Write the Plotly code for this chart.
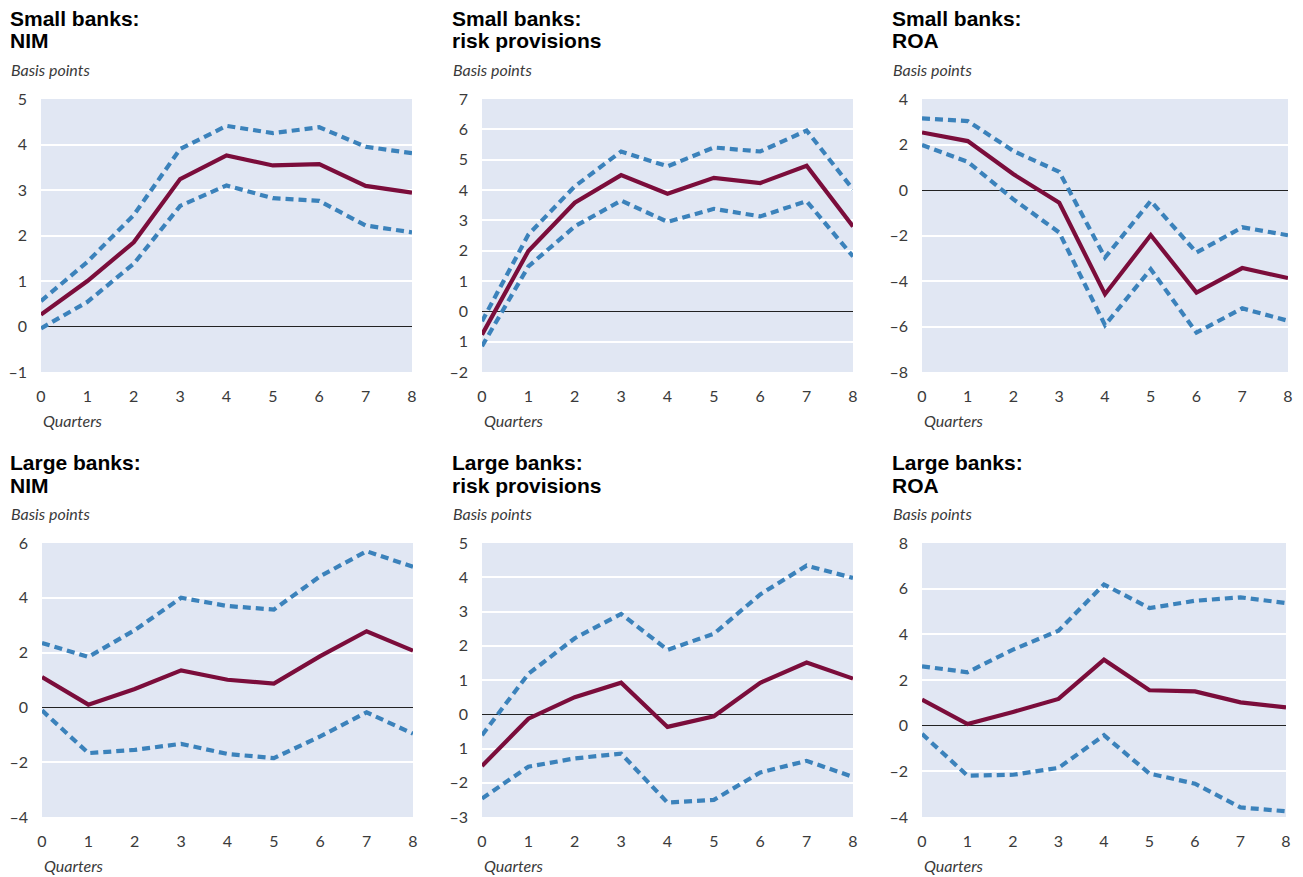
import plotly.graph_objects as go

quarters = [0, 1, 2, 3, 4, 5, 6, 7, 8]

# Small banks: NIM
s_nim_mid = [0.26, 1.0, 1.85, 3.24, 3.76, 3.54, 3.57, 3.09, 2.94]
s_nim_hi = [0.56, 1.42, 2.45, 3.9, 4.41, 4.25, 4.38, 3.95, 3.81]
s_nim_lo = [-0.04, 0.54, 1.38, 2.65, 3.1, 2.82, 2.76, 2.22, 2.07]

# Small banks: risk provisions
s_rp_mid = [-0.77, 1.99, 3.58, 4.49, 3.88, 4.4, 4.23, 4.8, 2.8]
s_rp_hi = [-0.33, 2.53, 4.12, 5.27, 4.78, 5.4, 5.27, 5.96, 4.02]
s_rp_lo = [-1.15, 1.48, 2.8, 3.65, 2.95, 3.38, 3.13, 3.63, 1.81]

# Small banks: ROA
s_roa_mid = [2.53, 2.15, 0.69, -0.56, -4.58, -1.98, -4.51, -3.43, -3.87]
s_roa_hi = [3.15, 3.03, 1.71, 0.8, -2.97, -0.48, -2.75, -1.64, -1.99]
s_roa_lo = [1.98, 1.24, -0.41, -1.87, -5.94, -3.48, -6.27, -5.2, -5.75]

# Large banks: NIM
l_nim_mid = [1.11, 0.1, 0.67, 1.35, 1.01, 0.87, 1.87, 2.78, 2.07]
l_nim_hi = [2.35, 1.84, 2.82, 4.0, 3.7, 3.57, 4.79, 5.7, 5.13]
l_nim_lo = [-0.11, -1.67, -1.55, -1.33, -1.7, -1.85, -1.06, -0.18, -0.96]

# Large banks: risk provisions
l_rp_mid = [-1.51, -0.13, 0.5, 0.92, -0.37, -0.06, 0.92, 1.51, 1.04]
l_rp_hi = [-0.61, 1.18, 2.22, 2.93, 1.88, 2.35, 3.5, 4.34, 3.98]
l_rp_lo = [-2.46, -1.53, -1.29, -1.15, -2.58, -2.5, -1.7, -1.36, -1.83]

# Large banks: ROA
l_roa_mid = [1.14, 0.07, 0.6, 1.17, 2.89, 1.55, 1.5, 1.02, 0.8]
l_roa_hi = [2.6, 2.34, 3.33, 4.16, 6.18, 5.15, 5.47, 5.62, 5.37]
l_roa_lo = [-0.36, -2.19, -2.15, -1.85, -0.42, -2.1, -2.54, -3.58, -3.75]

title_line1 = ["Small banks:"] * 3 + ["Large banks:"] * 3
title_line2 = ["NIM", "risk provisions", "ROA", "NIM", "risk provisions", "ROA"]
y_ticks = [
    [-1, 0, 1, 2, 3, 4, 5],
    [-2, -1, 0, 1, 2, 3, 4, 5, 6, 7],
    [-8, -6, -4, -2, 0, 2, 4],
    [-4, -2, 0, 2, 4, 6],
    [-3, -2, -1, 0, 1, 2, 3, 4, 5],
    [-4, -2, 0, 2, 4, 6, 8],
]
y_ticktext = [
    ["–1", "0", "1", "2", "3", "4", "5"],
    ["–2", "1", "0", "1", "2", "3", "4", "5", "6", "7"],
    ["–8", "–6", "–4", "–2", "0", "2", "4"],
    ["–4", "–2", "0", "2", "4", "6"],
    ["–3", "–2", "1", "0", "1", "2", "3", "4", "5"],
    ["–4", "–2", "0", "2", "4", "6", "8"],
]
series = [
    (s_nim_mid, s_nim_hi, s_nim_lo),
    (s_rp_mid, s_rp_hi, s_rp_lo),
    (s_roa_mid, s_roa_hi, s_roa_lo),
    (l_nim_mid, l_nim_hi, l_nim_lo),
    (l_rp_mid, l_rp_hi, l_rp_lo),
    (l_roa_mid, l_roa_hi, l_roa_lo),
]

# the page body adds an 8px margin, so work in screen pixels minus that offset
OFF = 8
W, H = 1303 - OFF, 877 - OFF
# plot-area screen pixel boxes (left, right, top, bottom)
boxes = [
    (41, 412, 99, 372), (482, 853, 99, 372), (922, 1288, 99, 372),
    (42, 413, 543, 817), (482, 853, 543, 817), (922, 1286, 543, 817),
]
title_x = [9, 451, 891, 9, 451, 891]
row_offset = [0, 444]


def px(v):
    return (v - OFF) / W


def py(v):
    return 1 - (v - OFF) / H


MAROON = "#7b0d3b"
BLUE = "#3b82bb"
BG = "#e1e7f3"
TXT = "#3a3a3a"
FONT = "Lato, sans-serif"
TFONT = "Liberation Sans, Arial, sans-serif"

fig = go.Figure()
layout = dict(
    width=W, height=H, margin=dict(l=0, r=0, t=0, b=0, pad=0, autoexpand=False),
    paper_bgcolor="white", plot_bgcolor=BG, showlegend=False,
    font=dict(family=FONT, color=TXT),
)
annotations = []
for i in range(6):
    k = "" if i == 0 else str(i + 1)
    l, r, t, b = boxes[i]
    mid, hi, lo = series[i]
    ticks = y_ticks[i]
    xa, ya = "x" + k, "y" + k
    for vals, color, dash in ((hi, BLUE, "8px,5px"), (lo, BLUE, "8px,5px"), (mid, MAROON, "solid")):
        fig.add_trace(go.Scatter(
            x=quarters, y=vals, mode="lines", xaxis=xa, yaxis=ya,
            line=dict(color=color, width=4.2, dash=dash), cliponaxis=True,
            hoverinfo="skip",
        ))
    layout["xaxis" + k] = dict(
        domain=[px(l), px(r)], anchor=ya, range=[0, 8], automargin=False,
        tickvals=quarters, ticktext=[str(q) for q in quarters],
        showgrid=False, zeroline=False, showline=False, ticks="",
        tickfont=dict(size=16, color=TXT, family=FONT),
        ticklabelstandoff=13,
    )
    layout["yaxis" + k] = dict(
        domain=[py(b), py(t)], anchor=xa, range=[ticks[0], ticks[-1]],
        automargin=False,
        tickvals=ticks, ticktext=y_ticktext[i],
        showgrid=True, gridcolor="white", gridwidth=1.6,
        zeroline=True, zerolinecolor="#222222", zerolinewidth=1.2,
        showline=False, ticks="",
        tickfont=dict(size=16, color=TXT, family=FONT),
        ticklabelstandoff=13,
    )
    off = row_offset[i // 3]
    annotations.append(dict(
        text="<b>" + title_line1[i] + "</b>", x=px(title_x[i] - 1), y=py(off + 18),
        xref="paper", yref="paper", xanchor="left", yanchor="middle",
        showarrow=False, font=dict(size=21, color="black", family=TFONT),
    ))
    annotations.append(dict(
        text="<b>" + title_line2[i] + "</b>", x=px(title_x[i] - 1), y=py(off + 41),
        xref="paper", yref="paper", xanchor="left", yanchor="middle",
        showarrow=False, font=dict(size=21, color="black", family=TFONT),
    ))
    annotations.append(dict(
        text="<i>Basis points</i>", x=px(title_x[i]), y=py(off + 69),
        xref="paper", yref="paper", xanchor="left", yanchor="middle",
        showarrow=False, font=dict(size=16, color=TXT, family=FONT),
    ))
    annotations.append(dict(
        text="<i>Quarters</i>", x=px(l), y=py(b + 48),
        xref="paper", yref="paper", xanchor="left", yanchor="middle",
        showarrow=False, font=dict(size=16, color=TXT, family=FONT),
    ))
layout["annotations"] = annotations
fig.update_layout(**layout)
fig.write_html("out.html")
